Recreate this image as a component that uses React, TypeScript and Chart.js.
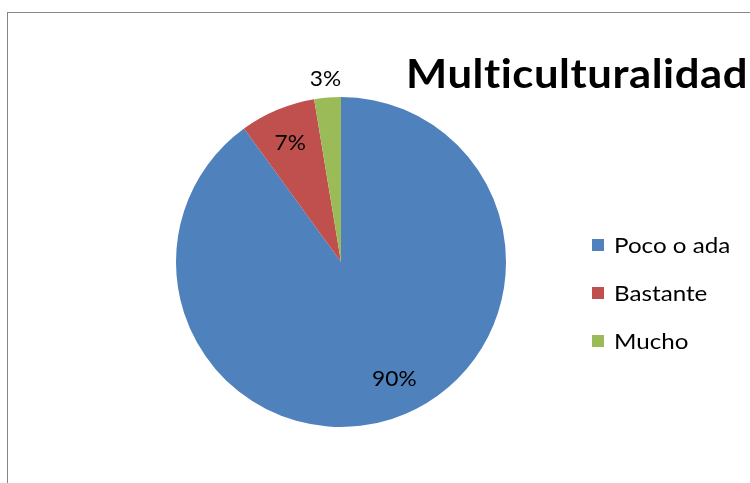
import React, { useEffect, useRef } from "react";
import { Chart, registerables } from "chart.js";

Chart.register(...registerables);

const categories: string[] = ["Poco o ada", "Bastante", "Mucho"];
const values: number[] = [90, 7.4, 2.6];
const colors: string[] = ["#4F81BD", "#C0504D", "#9BBB59"];
const titleText = "Multiculturalidad";

const FONT = "Lato, 'Open Sans', sans-serif";

function drawStretched(
  ctx: CanvasRenderingContext2D,
  text: string,
  x: number,
  y: number,
  sx: number,
  align: CanvasTextAlign
) {
  ctx.save();
  ctx.translate(x, y);
  ctx.scale(sx, 1);
  ctx.textAlign = align;
  ctx.fillText(text, 0, 0);
  ctx.restore();
}

const overlayPlugin = {
  id: "excelOverlay",
  afterDraw(chart: any) {
    const ctx: CanvasRenderingContext2D = chart.ctx;
    const meta = chart.getDatasetMeta(0);
    const total = values.reduce((a, b) => a + b, 0);
    ctx.save();
    ctx.fillStyle = "#000";
    ctx.textBaseline = "middle";
    ctx.font = `21px ${FONT}`;
    meta.data.forEach((arc: any, i: number) => {
      const p = arc.getProps(["x", "y", "startAngle", "endAngle", "outerRadius"], true);
      const pct = (values[i] / total) * 100;
      const ang = p.startAngle + 0.48 * (p.endAngle - p.startAngle);
      const rf = pct < 5 ? 1.11 : 0.78;
      const lx = p.x + Math.cos(ang) * p.outerRadius * rf;
      const ly = p.y + Math.sin(ang) * p.outerRadius * rf;
      drawStretched(ctx, `${Math.round(pct)}%`, lx, ly, 1.08, "center");
    });

    // legend
    const lgX = 592;
    const lgY0 = 245;
    const lgStep = 48;
    ctx.font = `22px ${FONT}`;
    categories.forEach((c, i) => {
      const cy = lgY0 + i * lgStep;
      ctx.fillStyle = colors[i];
      ctx.fillRect(lgX, cy - 6, 12, 12);
      ctx.fillStyle = "#000";
      drawStretched(ctx, c, lgX + 22, cy + 1, 1.1, "left");
    });

    // title
    ctx.font = `bold 40px ${FONT}`;
    (ctx as any).letterSpacing = "0.5px";
    ctx.textBaseline = "alphabetic";
    const tw = ctx.measureText(titleText).width;
    const targetW = 342;
    drawStretched(ctx, titleText, 406, 88, targetW / tw, "left");
    ctx.restore();
  },
};

export default function App() {
  const ref = useRef<HTMLCanvasElement | null>(null);
  useEffect(() => {
    document.body.style.margin = "0";
    const canvas = ref.current;
    if (!canvas) return;
    const chart = new Chart(canvas, {
      type: "pie",
      data: {
        labels: categories,
        datasets: [
          {
            data: values,
            backgroundColor: colors,
            borderWidth: 0,
          },
        ],
      },
      options: {
        responsive: false,
        animation: false,
        layout: { padding: { left: 176, right: 244, top: 97, bottom: 56 } },
        plugins: {
          legend: { display: false },
          title: { display: false },
          tooltip: { enabled: false },
        },
      },
      plugins: [overlayPlugin],
    });
    return () => chart.destroy();
  }, []);

  return (
    <div
      style={{
        position: "fixed",
        left: 0,
        top: 0,
        width: 750,
        height: 483,
        background: "#fff",
        overflow: "hidden",
      }}
    >
      <div
        style={{
          position: "absolute",
          left: 7,
          top: 12,
          width: 800,
          height: 600,
          border: "1px solid #868686",
        }}
      />
      <canvas
        ref={ref}
        width={750}
        height={483}
        style={{ position: "absolute", left: 0, top: 0, width: 750, height: 483 }}
      />
    </div>
  );
}
